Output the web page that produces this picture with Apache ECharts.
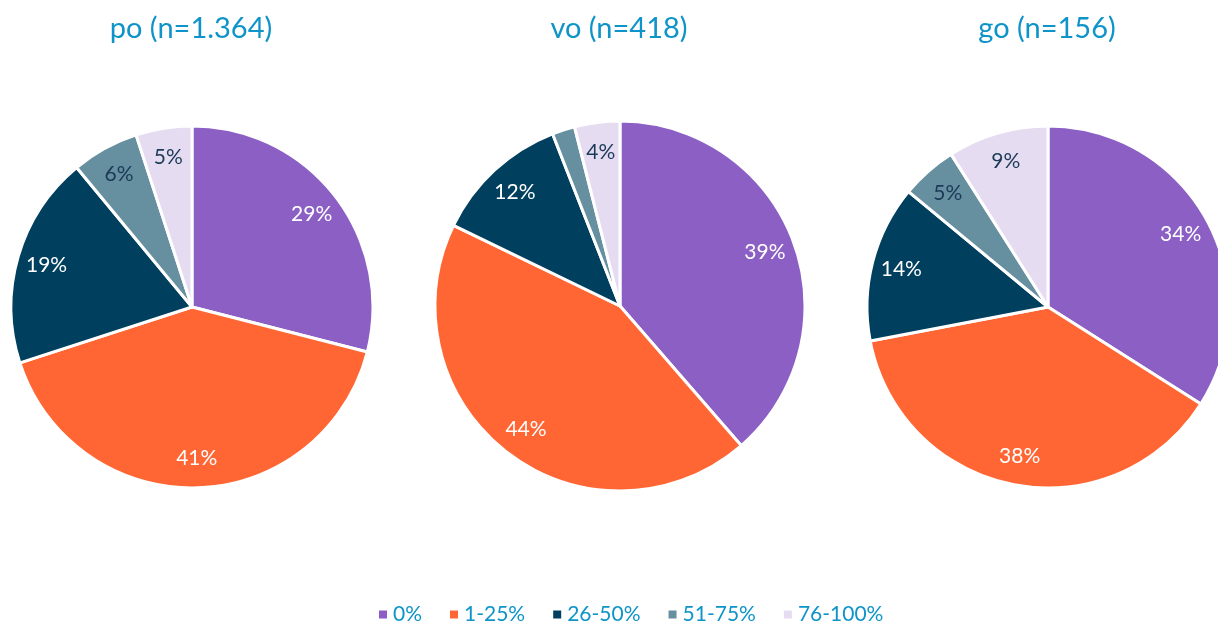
<!DOCTYPE html>
<html>
<head>
<meta charset="utf-8">
<script src="https://cdn.jsdelivr.net/npm/echarts@6/dist/echarts.min.js"></script>
<style>
  html, body { margin: 0; padding: 0; background: #fff; }
  #chart { width: 1218px; height: 622px; }
</style>
</head>
<body>
<div id="chart"></div>
<script>
var categories = ['0%', '1-25%', '26-50%', '51-75%', '76-100%'];
var titles = ['po (n=1.364)', 'vo (n=418)', 'go (n=156)'];
var po_values = [29, 41, 19, 6, 5];
var vo_values = [39, 44, 12, 2, 4];
var go_values = [34, 38, 14, 5, 9];

var COLORS = ['#8B5FC4', '#FF6633', '#003F5E', '#668FA0', '#E6DCF2'];
var LABEL_COLORS = ['#fff', '#fff', '#fff', '#1B3A57', '#1B3A57'];
var BLUE = '#0E94C8';

var PIES = [
    {values: po_values, center: [192, 307], r: 181},
    {values: vo_values, center: [620, 306], r: 185},
    {values: go_values, center: [1048, 307], r: 181}
];

function make_data(values, with_label){
    return values.map(function(v, i){
        var d = {name: categories[i], value: v};
        if (with_label){
            d.label = {color: LABEL_COLORS[i], show: v >= 3};
        }
        return d;
    });
}

var series = [];
var title = [];
PIES.forEach(function(p, k){
    title.push({
        text: titles[k],
        left: p.center[0] - 6,
        top: 9,
        textAlign: 'center',
        textStyle: {color: BLUE, fontSize: 29, fontWeight: 'normal', fontFamily: 'Lato'}
    });
    // the coloured pie
    series.push({
        type: 'pie',
        center: p.center,
        radius: [0, p.r],
        startAngle: 90,
        clockwise: true,
        silent: true,
        label: {show: false},
        labelLine: {show: false},
        itemStyle: {borderColor: '#fff', borderWidth: 3},
        color: COLORS,
        data: make_data(p.values, false)
    });
    // transparent ring, only to put the labels near the rim
    series.push({
        type: 'pie',
        center: p.center,
        radius: [p.r * 0.64, p.r],
        startAngle: 90,
        clockwise: true,
        silent: true,
        legendHoverLink: false,
        itemStyle: {color: 'rgba(0,0,0,0)', borderWidth: 0},
        label: {position: 'inside', formatter: '{c}%', fontSize: 21, fontFamily: 'Lato'},
        labelLine: {show: false},
        data: make_data(p.values, true)
    });
});

var myChart = echarts.init(document.getElementById('chart'));
myChart.setOption({
    animation: false,
    title: title,
    legend: {
        data: categories,
        top: 599,
        left: 372,
        icon: 'rect',
        itemWidth: 10,
        itemHeight: 10,
        itemGap: 26,
        textStyle: {color: BLUE, fontSize: 21, fontFamily: 'Lato'}
    },
    color: COLORS,
    series: series
});
</script>
</body>
</html>
